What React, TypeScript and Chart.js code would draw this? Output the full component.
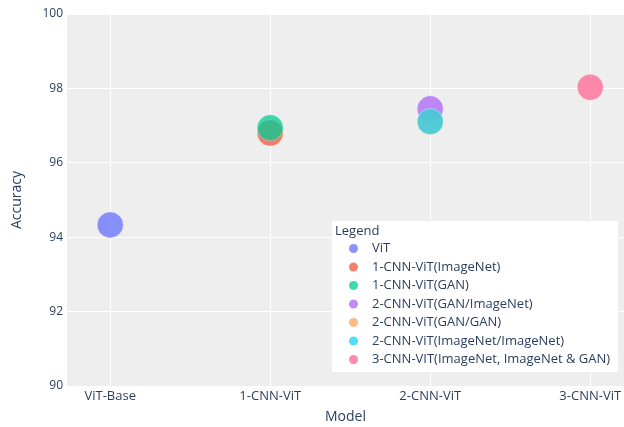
import React, { useEffect, useRef } from "react";
import { Chart, registerables } from "chart.js";

Chart.register(...registerables);

const categories = ["ViT-Base", "1-CNN-ViT", "2-CNN-ViT", "3-CNN-ViT"];
const seriesNames = [
  "ViT",
  "1-CNN-ViT(ImageNet)",
  "1-CNN-ViT(GAN)",
  "2-CNN-ViT(GAN/ImageNet)",
  "2-CNN-ViT(GAN/GAN)",
  "2-CNN-ViT(ImageNet/ImageNet)",
  "3-CNN-VIT(ImageNet, ImageNet & GAN)",
];
const seriesCategory = [0, 1, 1, 2, 2, 2, 3];
const seriesAccuracy = [94.33, 96.8, 96.94, 97.45, 97.1, 97.11, 98.03];
const seriesColors = ["#636efa", "#EF553B", "#00cc96", "#ab63fa", "#FFA15A", "#19d3f3", "#FF6692"];
const yTicks = [90, 92, 94, 96, 98, 100];

const FONT = "'Open Sans', verdana, arial, sans-serif";
const TEXT = "#2a3f5f";

function alpha(hex: string, a: number) {
  const n = parseInt(hex.slice(1), 16);
  return `rgba(${(n >> 16) & 255},${(n >> 8) & 255},${n & 255},${a})`;
}

const bgPlugin = {
  id: "plotBg",
  beforeDraw(chart: any) {
    const { ctx, chartArea } = chart;
    ctx.save();
    ctx.fillStyle = "#eeeeee";
    ctx.fillRect(chartArea.left, chartArea.top, chartArea.right - chartArea.left, chartArea.bottom - chartArea.top);
    ctx.restore();
  },
};

const legendPlugin = {
  id: "plotLegend",
  afterDraw(chart: any) {
    const { ctx } = chart;
    const x0 = 332, y0 = 221, w = 286, h = 151;
    ctx.save();
    ctx.fillStyle = "#ffffff";
    ctx.fillRect(x0, y0, w, h);
    ctx.font = `13px ${FONT}`;
    ctx.fillStyle = TEXT;
    ctx.textBaseline = "middle";
    ctx.textAlign = "left";
    ctx.fillText("Legend", 335, 231);
    chart.data.datasets.forEach((ds: any, i: number) => {
      const y = 248.5 + i * 18.5;
      ctx.beginPath();
      ctx.arc(353.5, y, 4.5, 0, Math.PI * 2);
      ctx.fillStyle = ds.backgroundColor;
      ctx.fill();
      ctx.fillStyle = TEXT;
      ctx.fillText(ds.label, 372, y);
    });
    ctx.restore();
  },
};

export default function App() {
  const ref = useRef<HTMLCanvasElement>(null);
  useEffect(() => {
    document.body.style.margin = "0";
    const n = seriesNames.length;
    const chart = new Chart(ref.current!, {
      type: "scatter",
      data: {
        datasets: seriesNames.map((name, i) => ({
          label: name,
          data: [{ x: seriesCategory[i], y: seriesAccuracy[i] }],
          backgroundColor: alpha(seriesColors[i], 0.75),
          borderColor: "rgba(255,255,255,0.6)",
          borderWidth: 0.5,
          pointRadius: 13,
          pointHoverRadius: 13,
          order: n - i,
        })),
      },
      options: {
        animation: false,
        responsive: false,
        maintainAspectRatio: false,
        layout: { autoPadding: false, padding: { top: 14, right: 0, left: 0, bottom: 0 } },
        plugins: { legend: { display: false }, tooltip: { enabled: false } },
        scales: {
          x: {
            type: "linear",
            min: -0.27,
            max: 3.211,
            afterBuildTicks: (s: any) => {
              s.ticks = categories.map((_, i) => ({ value: i }));
            },
            afterFit: (s: any) => {
              s.height = 41;
              s.paddingLeft = 0;
              s.paddingRight = 0;
            },
            ticks: {
              callback: (v: any) => categories[v] ?? "",
              font: { family: FONT, size: 13 },
              color: TEXT,
              padding: 2,
              maxRotation: 0,
            },
            grid: { color: "#ffffff", lineWidth: 1, drawTicks: false },
            border: { display: false },
            title: {
              display: true,
              text: "Model",
              font: { family: FONT, size: 14 },
              color: TEXT,
              padding: { top: 0, bottom: 2 },
            },
          },
          y: {
            type: "linear",
            min: 90,
            max: 100,
            afterBuildTicks: (s: any) => {
              s.ticks = yTicks.map((v) => ({ value: v }));
            },
            afterFit: (s: any) => {
              s.width = 67;
              s.paddingTop = 0;
              s.paddingBottom = 0;
            },
            ticks: {
              font: { family: FONT, size: 12 },
              color: TEXT,
              padding: 4,
            },
            grid: { color: "#ffffff", lineWidth: 1, drawTicks: false },
            border: { display: false },
            title: {
              display: true,
              text: "Accuracy",
              font: { family: FONT, size: 14 },
              color: TEXT,
              padding: { top: 9, bottom: 0 },
            },
          },
        },
      },
      plugins: [bgPlugin, legendPlugin],
    });
    return () => chart.destroy();
  }, []);
  return (
    <div style={{ position: "absolute", left: 0, top: 0, width: 624, height: 427, background: "#fff" }}>
      <canvas ref={ref} width={624} height={427} style={{ width: 624, height: 427 }} />
    </div>
  );
}
